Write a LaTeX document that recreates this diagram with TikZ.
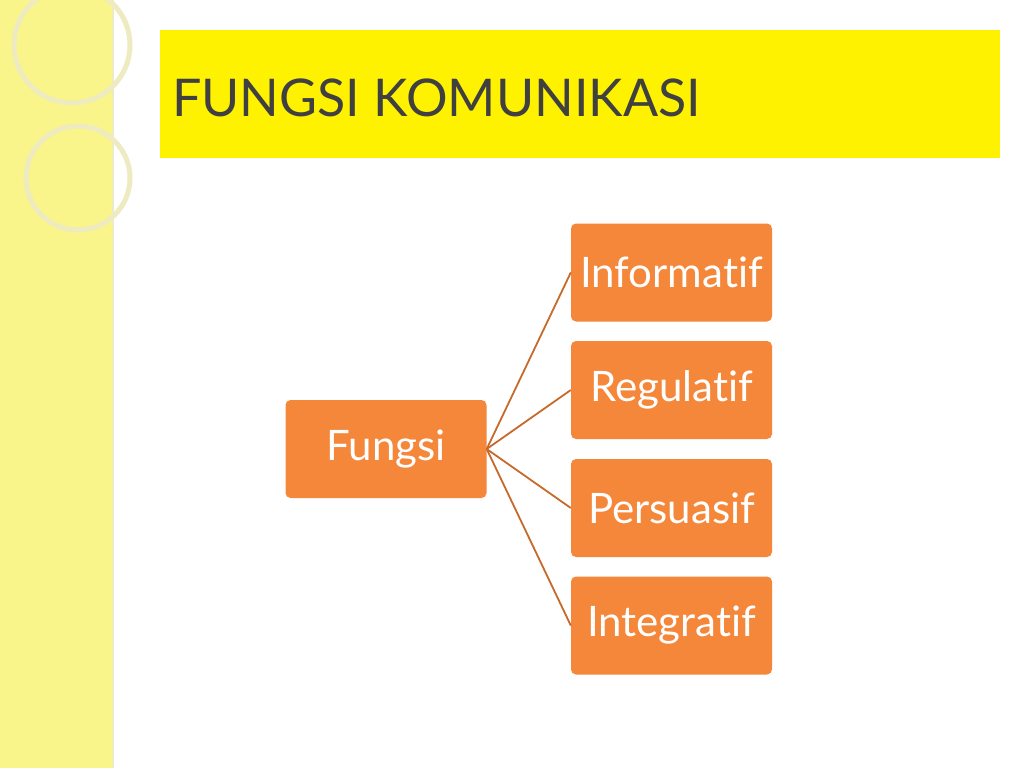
\documentclass[tikz,border=0pt]{standalone}
\usepackage{fontspec}
\setmainfont{Lato}[Ligatures=NoCommon]
\begin{document}
\begin{tikzpicture}[x=1pt,y=-1pt,
 box/.style={fill=boxor,rounded corners=5pt,minimum width=201pt,minimum height=98pt,text=white,font=\fontsize{42}{44}\selectfont,inner sep=0pt},
 link/.style={draw=linkor,line width=1.8pt}]
\definecolor{boxor}{HTML}{F5873A}
\definecolor{linkor}{HTML}{C8692C}
\definecolor{stripe}{HTML}{F9F58A}
\definecolor{ring}{HTML}{EEEBC0}
\useasboundingbox (0,0) rectangle (1024,768);
\fill[white] (0,0) rectangle (1024,768);
\fill[stripe] (0,0) rectangle (112,768);
\draw[ring,line width=1.2pt] (113,0) -- (113,768);
\draw[ring,line width=5pt] (72,45) circle (58);
\draw[ring,line width=5pt] (78,178) circle (52);
\fill[yellow] (160,30) rectangle (1000,158);
\node[anchor=base west,text=black!75,font=\fontsize{52}{54}\selectfont,inner sep=0pt] (title) at (172,116) {FUNGSI KOMUNIKASI};
\node[box] (f) at (386,449) {Fungsi};
\node[box] (a) at (671.5,272.5) {Informatif};
\node[box] (b) at (671.5,390) {Regulatif};
\node[box] (c) at (671.5,508) {Persuasif};
\node[box] (d) at (671.5,625.5) {Integratif};
\foreach \n in {a,b,c,d} \draw[link] (f.east) -- (\n.west);
\end{tikzpicture}
\end{document}
